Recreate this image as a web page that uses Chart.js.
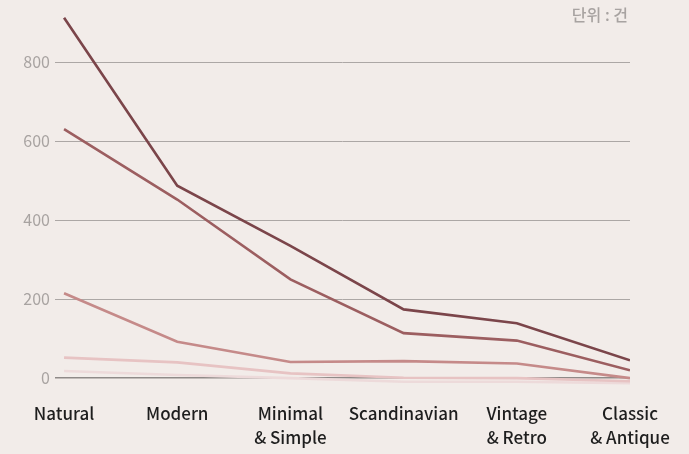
<!DOCTYPE html>
<html>
<head>
<meta charset="utf-8">
<script src="https://cdn.jsdelivr.net/npm/chart.js@4"></script>
<style>
  html, body { margin: 0; padding: 0; background: #f2ece9; }
  #wrap { width: 689px; height: 454px; }
</style>
</head>
<body>
<div id="wrap"><canvas id="styleChart"></canvas></div>
<script>
const categories = [['Natural'], ['Modern'], ['Minimal', '& Simple'], ['Scandinavian'], ['Vintage', '& Retro'], ['Classic', '& Antique']];
const series1 = [912, 487, 335, 174, 139, 45];
const series2 = [630, 452, 250, 114, 95, 20];
const series3 = [215, 92, 41, 43, 37, 0];
const series4 = [52, 40, 12, 1, 0, -8];
const series5 = [18, 8, 0, -9, -9, -13];
const yTicks = [0, 200, 400, 600, 800];
const unitLabel = '단위 : 건';

const colors = ['#7b454a', '#9c5e60', '#c58a89', '#e7c3c3', '#eddada'];
const allSeries = [series1, series2, series3, series4, series5];

const toPoints = (arr) => arr.map((v, i) => ({ x: i, y: v }));

// draw the light ones first so darker lines sit on top
const datasets = allSeries.map((s, i) => ({
  data: toPoints(s),
  borderColor: colors[i],
  borderWidth: 2.6,
  pointRadius: 0,
  tension: 0,
  order: i
}));

const unitPlugin = {
  id: 'unitText',
  afterDraw(chart) {
    const ctx = chart.ctx;
    ctx.save();
    ctx.font = '500 16px "Noto Sans CJK KR"';
    ctx.fillStyle = '#a8a3a1';
    ctx.textAlign = 'right';
    ctx.textBaseline = 'middle';
    ctx.fillText(unitLabel, chart.chartArea.right - 2, 15);
    ctx.restore();
  }
};

new Chart(document.getElementById('styleChart'), {
  type: 'line',
  data: { datasets },
  options: {
    responsive: true,
    maintainAspectRatio: false,
    animation: false,
    layout: { padding: { top: 13.5, right: 59, left: 0, bottom: 0 } },
    plugins: { legend: { display: false }, tooltip: { enabled: false } },
    scales: {
      x: {
        type: 'linear',
        min: -0.08,
        max: 5,
        afterBuildTicks: (axis) => { axis.ticks = categories.map((_, i) => ({ value: i })); },
        afterFit: (axis) => { axis.height = 64; },
        grid: { display: false, drawTicks: false },
        border: { display: false },
        ticks: {
          autoSkip: false,
          maxRotation: 0,
          padding: 12,
          color: '#1e1e1e',
          font: { family: '"Noto Sans CJK KR"', size: 17, weight: '500', lineHeight: 1.4 },
          callback: (v) => categories[v] || ''
        }
      },
      y: {
        min: -30,
        max: 920,
        afterBuildTicks: (axis) => { axis.ticks = yTicks.map(v => ({ value: v })); },
        afterFit: (axis) => { axis.width = 55; },
        grid: {
          drawTicks: false,
          color: (c) => c.tick && c.tick.value === 0 ? '#8f8a88' : '#aca7a5',
          lineWidth: (c) => c.tick && c.tick.value === 0 ? 1.5 : 1
        },
        border: { display: false },
        ticks: {
          padding: 5,
          color: '#a8a3a1',
          font: { family: '"Noto Sans CJK KR"', size: 16 }
        }
      }
    }
  },
  plugins: [unitPlugin]
});
</script>
</body>
</html>
